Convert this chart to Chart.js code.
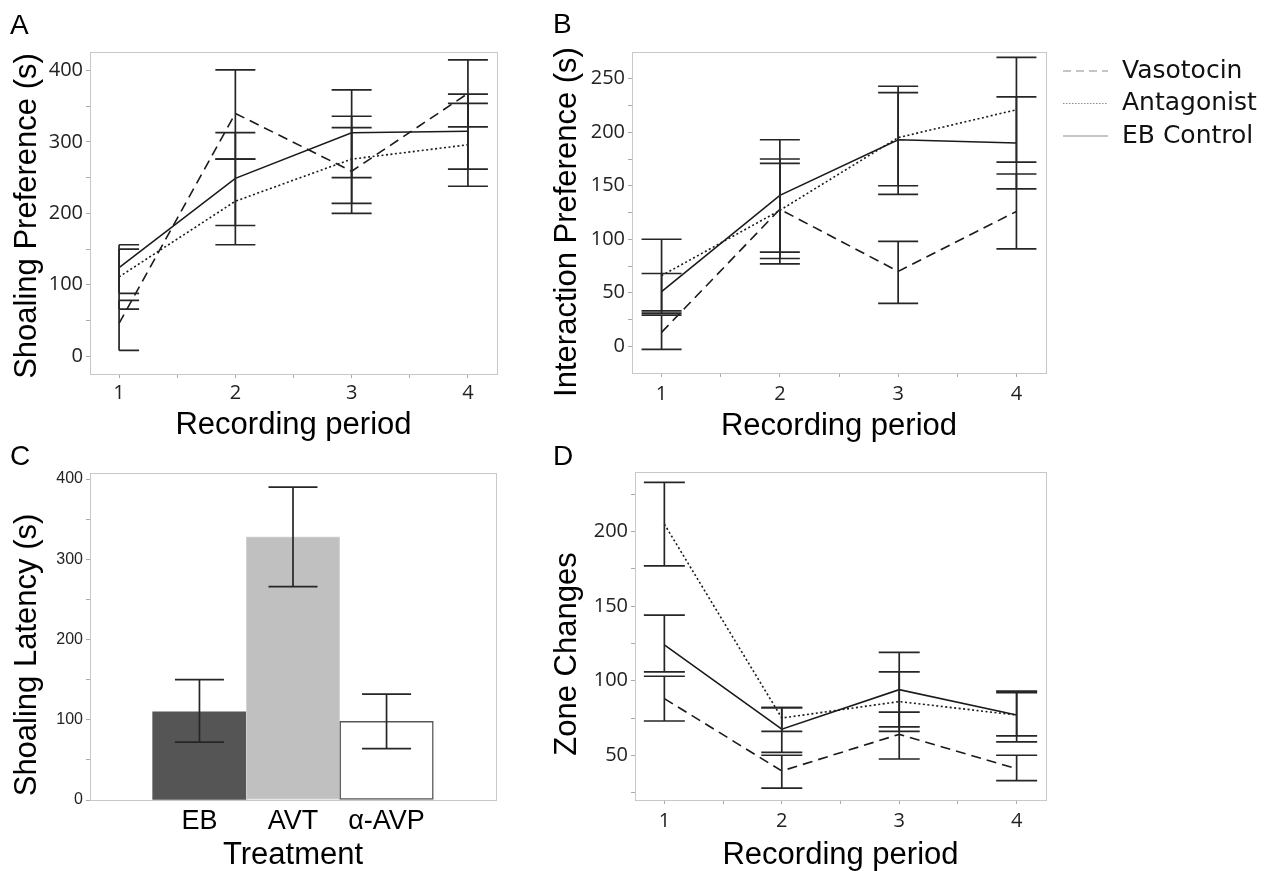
<!DOCTYPE html>
<html>
<head>
<meta charset="utf-8">
<script src="https://cdn.jsdelivr.net/npm/chart.js@4.4.1/dist/chart.umd.min.js"></script>
<style>
  html, body { margin: 0; padding: 0; background: #fff; overflow: hidden; }
  canvas { position: absolute; }
</style>
</head>
<body>
<canvas id="chartA" width="530" height="445" style="left:0;top:0"></canvas>
<canvas id="chartB" width="735" height="445" style="left:540px;top:0"></canvas>
<canvas id="chartC" width="530" height="440" style="left:0;top:440px"></canvas>
<canvas id="chartD" width="530" height="440" style="left:540px;top:440px"></canvas>
<script>
const periods = [1, 2, 3, 4];
const seriesNames = ['Vasotocin', 'Antagonist', 'EB Control'];

// A - shoaling preference (s)
const shoalVaso = [46, 340, 259, 368];
const shoalVasoLo = [8, 276, 200, 321];
const shoalVasoHi = [78, 401, 320, 415];
const shoalAnta = [111, 217, 276, 296];
const shoalAntaLo = [66, 156, 214, 238];
const shoalAntaHi = [150, 276, 336, 354];
const shoalCtrl = [124, 249, 313, 315];
const shoalCtrlLo = [88, 183, 250, 262];
const shoalCtrlHi = [156, 313, 373, 367];

// B - interaction preference (s)
const interVaso = [13, 128, 70, 126];
const interVasoLo = [-3, 77, 40, 91];
const interVasoHi = [29, 171, 98, 161];
const interAnta = [66, 127, 195, 221];
const interAntaLo = [31, 82, 150, 172];
const interAntaHi = [100, 175, 237, 270];
const interCtrl = [51, 141, 193, 190];
const interCtrlLo = [33, 88, 142, 147];
const interCtrlHi = [68, 193, 243, 233];

// C - shoaling latency by treatment
const treatments = ['EB', 'AVT', 'α-AVP'];
const latency = [110, 328, 98];
const latencyLo = [72, 266, 64];
const latencyHi = [150, 390, 132];

// D - zone changes
const zoneVaso = [88, 39.5, 64, 41];
const zoneVasoLo = [73, 28, 47.5, 33];
const zoneVasoHi = [103, 50, 79, 50];
const zoneAnta = [205, 75, 86, 77];
const zoneAntaLo = [177, 66, 66, 63];
const zoneAntaHi = [233, 82, 106, 92];
const zoneCtrl = [124, 67.5, 94, 77];
const zoneCtrlLo = [106, 52, 69, 59];
const zoneCtrlHi = [144, 82, 119, 93];

// tick labels
const yTicksA = [0, 100, 200, 300, 400];
const yTicksB = [0, 50, 100, 150, 200, 250];
const yTicksC = [0, 100, 200, 300, 400];
const yTicksD = [50, 100, 150, 200];

const ink = '#1a1a1a';
const lineDash = [[10, 6], [2, 2.5], []];
const keyDash = [[8, 5], [1.5, 1.5], []];
const tickFont = {family: 'Open Sans', size: 20};
const titleFont = {family: 'Liberation Sans', size: 31};

// light grey box round the plot area
const frame = {
  id: 'frame',
  beforeDatasetsDraw(chart) {
    const {ctx, chartArea: a} = chart;
    ctx.save();
    ctx.strokeStyle = '#c8c8c8';
    ctx.lineWidth = 1;
    ctx.strokeRect(Math.round(a.left) + 0.5, Math.round(a.top) + 0.5, Math.round(a.width), Math.round(a.height));
    ctx.restore();
  }
};

const errorBars = {
  id: 'errorBars',
  afterDatasetsDraw(chart, args, opts) {
    const {ctx, scales: {x, y}} = chart;
    ctx.save();
    ctx.strokeStyle = '#262626';
    ctx.lineWidth = 1.7;
    ctx.setLineDash([]);
    chart.data.datasets.forEach(ds => {
      ds.data.forEach((pt, i) => {
        const px = x.getPixelForValue(pt.x);
        const lo = y.getPixelForValue(ds.errLo[i]);
        const hi = y.getPixelForValue(ds.errHi[i]);
        const left = opts.halfFirst && i === 0 ? 0 : opts.cap;
        ctx.beginPath();
        ctx.moveTo(px, lo); ctx.lineTo(px, hi);
        ctx.moveTo(px - left, lo); ctx.lineTo(px + opts.cap, lo);
        ctx.moveTo(px - left, hi); ctx.lineTo(px + opts.cap, hi);
        ctx.stroke();
      });
    });
    ctx.restore();
  }
};

// panel letter + rotated y title
const panelText = {
  id: 'panelText',
  afterDraw(chart, args, o) {
    const ctx = chart.ctx;
    ctx.save();
    ctx.fillStyle = '#000';
    ctx.textBaseline = 'middle';
    ctx.textAlign = 'left';
    ctx.font = '28px "Liberation Sans"';
    ctx.fillText(o.letter, o.lx, o.ly);
    ctx.translate(o.tx, o.ty);
    ctx.rotate(-Math.PI / 2);
    ctx.textAlign = 'center';
    ctx.font = '31px "Liberation Sans"';
    ctx.fillText(o.title, 0, 0);
    ctx.restore();
  }
};

const lineKey = {
  id: 'lineKey',
  afterDraw(chart, args, o) {
    const ctx = chart.ctx;
    ctx.save();
    ctx.font = '25px "DejaVu Sans"';
    ctx.textBaseline = 'middle';
    ctx.fillStyle = '#111';
    chart.data.datasets.forEach((ds, i) => {
      const y = o.y + i * o.gap;
      ctx.strokeStyle = '#8c8c8c';
      ctx.lineWidth = 1.2;
      ctx.setLineDash(keyDash[i]);
      ctx.beginPath();
      ctx.moveTo(o.x1, y); ctx.lineTo(o.x2, y);
      ctx.stroke();
      ctx.fillText(ds.label, o.tx, y);
    });
    ctx.restore();
  }
};

function withMinors(majors, min, max) {
  const step = majors[1] - majors[0];
  const out = majors.slice();
  for (let v = majors[0] - step / 2; v < max; v += step) if (v > min) out.push(v);
  return out.sort((a, b) => a - b);
}

function yScale(min, max, ticks, width, font) {
  return {
    min: min, max: max,
    afterBuildTicks: s => { s.ticks = withMinors(ticks, min, max).map(v => ({value: v})); },
    afterFit: s => { s.width = width; },
    border: {display: false},
    grid: {drawOnChartArea: false, tickLength: 4, color: '#aaa'},
    ticks: {
      autoSkip: false, padding: 3, color: '#222', font: font,
      callback: v => ticks.includes(v) ? String(v) : ''
    }
  };
}

function periodScale(height, tickPad, titlePad) {
  return {
    type: 'linear', min: 0.75, max: 4.25,
    afterBuildTicks: s => { s.ticks = withMinors(periods, 0.75, 4.25).map(v => ({value: v})); },
    afterFit: s => { s.height = height; },
    border: {display: false},
    grid: {drawOnChartArea: false, tickLength: 4, color: '#aaa'},
    ticks: {
      autoSkip: false, maxRotation: 0, padding: tickPad, color: '#222', font: tickFont,
      callback: v => periods.includes(v) ? String(v) : ''
    },
    title: {display: true, text: 'Recording period', color: '#000', font: titleFont,
            padding: {top: 0, bottom: titlePad}}
  };
}

function lineSets(means, lows, highs) {
  return seriesNames.map((name, s) => ({
    label: name,
    data: periods.map((p, i) => ({x: p, y: means[s][i]})),
    errLo: lows[s],
    errHi: highs[s],
    borderColor: ink,
    borderWidth: 1.6,
    borderDash: lineDash[s],
    pointRadius: 0,
    tension: 0,
    fill: false
  }));
}

const base = {
  responsive: false,
  animation: false,
  events: []
};

// chart A
new Chart(document.getElementById('chartA'), {
  type: 'line',
  data: {datasets: lineSets([shoalVaso, shoalAnta, shoalCtrl],
                            [shoalVasoLo, shoalAntaLo, shoalCtrlLo],
                            [shoalVasoHi, shoalAntaHi, shoalCtrlHi])},
  options: {
    ...base,
    layout: {padding: {top: 52, right: 33, left: 0, bottom: 0}},
    scales: {
      x: periodScale(71, 3, 1),
      y: yScale(-25, 426, yTicksA, 90, tickFont)
    },
    plugins: {
      legend: {display: false}, tooltip: {enabled: false},
      errorBars: {cap: 20, halfFirst: true},
      panelText: {letter: 'A', lx: 10, ly: 26, title: 'Shoaling Preference (s)', tx: 27, ty: 216}
    }
  },
  plugins: [frame, errorBars, panelText]
});

// chart B
new Chart(document.getElementById('chartB'), {
  type: 'line',
  data: {datasets: lineSets([interVaso, interAnta, interCtrl],
                            [interVasoLo, interAntaLo, interCtrlLo],
                            [interVasoHi, interAntaHi, interCtrlHi])},
  options: {
    ...base,
    layout: {padding: {top: 52, right: 229, left: 0, bottom: 0}},
    scales: {
      x: periodScale(72, 5, 0),
      y: yScale(-25, 275, yTicksB, 92, tickFont)
    },
    plugins: {
      legend: {display: false}, tooltip: {enabled: false},
      errorBars: {cap: 20},
      panelText: {letter: 'B', lx: 13, ly: 25, title: 'Interaction Preference (s)', tx: 27, ty: 222},
      lineKey: {x1: 523, x2: 568, tx: 582, y: 71, gap: 32.5}
    }
  },
  plugins: [frame, errorBars, panelText, lineKey]
});

// chart C
new Chart(document.getElementById('chartC'), {
  type: 'bar',
  data: {datasets: [{
    label: 'Shoaling latency',
    data: treatments.map((t, i) => ({x: i, y: latency[i]})),
    errLo: latencyLo,
    errHi: latencyHi,
    backgroundColor: ['#555555', '#c0c0c0', '#ffffff'],
    borderColor: ['#555555', '#d4d4d4', '#555555'],
    borderWidth: [0, 1, 1.5],
    borderSkipped: false,
    barPercentage: 1,
    categoryPercentage: 1
  }]},
  options: {
    ...base,
    layout: {padding: {top: 33, right: 34, left: 0, bottom: 0}},
    scales: {
      x: {
        type: 'linear', min: -1.17, max: 3.17, offset: false,
        afterBuildTicks: s => { s.ticks = treatments.map((t, i) => ({value: i})); },
        afterFit: s => { s.height = 80; },
        border: {display: false},
        grid: {display: false, drawTicks: false, offset: false},
        ticks: {
          autoSkip: false, maxRotation: 0, padding: 5, color: '#000',
          font: {family: 'Liberation Sans', size: 27},
          callback: v => treatments[v] ?? ''
        },
        title: {display: true, text: 'Treatment', color: '#000', font: titleFont,
                padding: {top: 0, bottom: 6}}
      },
      y: yScale(0, 407.5, yTicksC, 90, {family: 'Liberation Sans', size: 16})
    },
    plugins: {
      legend: {display: false}, tooltip: {enabled: false},
      errorBars: {cap: 24.5},
      panelText: {letter: 'C', lx: 10, ly: 17, title: 'Shoaling Latency (s)', tx: 27, ty: 215}
    }
  },
  plugins: [frame, errorBars, panelText]
});

// chart D
new Chart(document.getElementById('chartD'), {
  type: 'line',
  data: {datasets: lineSets([zoneVaso, zoneAnta, zoneCtrl],
                            [zoneVasoLo, zoneAntaLo, zoneCtrlLo],
                            [zoneVasoHi, zoneAntaHi, zoneCtrlHi])},
  options: {
    ...base,
    layout: {padding: {top: 32, right: 24, left: 0, bottom: 0}},
    scales: {
      x: periodScale(80, 5, 6),
      y: yScale(20, 240, yTicksD, 95, tickFont)
    },
    plugins: {
      legend: {display: false}, tooltip: {enabled: false},
      errorBars: {cap: 20.5},
      panelText: {letter: 'D', lx: 13, ly: 17, title: 'Zone Changes', tx: 27, ty: 214}
    }
  },
  plugins: [frame, errorBars, panelText]
});
</script>
</body>
</html>
